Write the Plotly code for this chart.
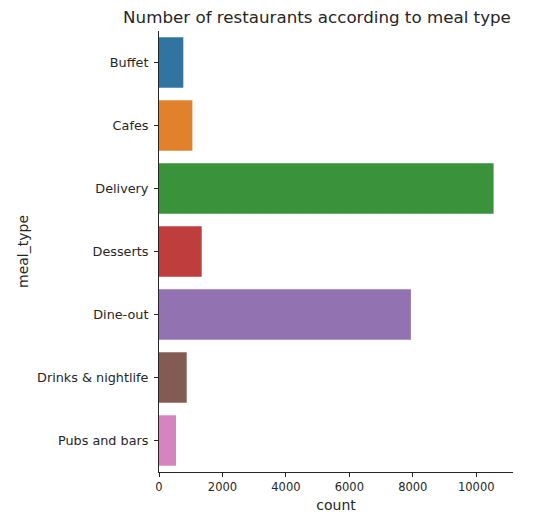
import plotly.graph_objects as go

categories = ["Buffet", "Cafes", "Delivery", "Desserts", "Dine-out", "Drinks & nightlife", "Pubs and bars"]
counts = [767, 1052, 10546, 1346, 7940, 873, 536]
colors = ["#3274a1", "#e1812c", "#3a923a", "#c03d3e", "#9372b2", "#845b53", "#d684bd"]
x_ticks = [0, 2000, 4000, 6000, 8000, 10000]

fig = go.Figure(go.Bar(
    x=counts, y=categories, orientation="h",
    marker=dict(color=colors, line=dict(width=0)),
    width=0.8,
))

W, H = 544, 513
L, R, T, B = 159, 31, 31, 41
fig.update_layout(
    width=W, height=H,
    margin=dict(l=L, r=R, t=T, b=B, autoexpand=False),
    plot_bgcolor="white", paper_bgcolor="white",
    font=dict(family="DejaVu Sans", color="#262626"),
    showlegend=False,
    bargap=0.2,
    title=dict(text="Number of restaurants according to meal type",
               x=317 / W, xanchor="center", xref="container",
               y=1 - 17 / H, yanchor="middle", yref="container",
               font=dict(size=16.7, color="#262626")),
)
fig.update_xaxes(
    range=[0, 11158], tickvals=x_ticks, ticktext=[str(v) for v in x_ticks],
    showgrid=False, zeroline=False, showline=True, linecolor="#262626", linewidth=1,
    ticks="outside", ticklen=4, tickcolor="#262626", tickfont=dict(size=11.5),
    automargin=False,
    title=dict(text="count", font=dict(size=14), standoff=8),
)
fig.update_yaxes(
    categoryorder="array", categoryarray=categories,
    range=[6.5, -0.5],
    showgrid=False, zeroline=False, showline=True, linecolor="#262626", linewidth=1,
    ticks="outside", ticklen=4, tickcolor="#262626", tickfont=dict(size=12.8),
    ticklabelstandoff=3,
    automargin=False,
    title=dict(text="meal_type", font=dict(size=14), standoff=5),
)
fig.write_html("out.html", config={"displayModeBar": False})

with open("out.html", "r", encoding="utf-8") as f:
    html = f.read()
html = html.replace("<head>", "<head><style>html,body{margin:0;padding:0;overflow:hidden;}</style>", 1)
with open("out.html", "w", encoding="utf-8") as f:
    f.write(html)
